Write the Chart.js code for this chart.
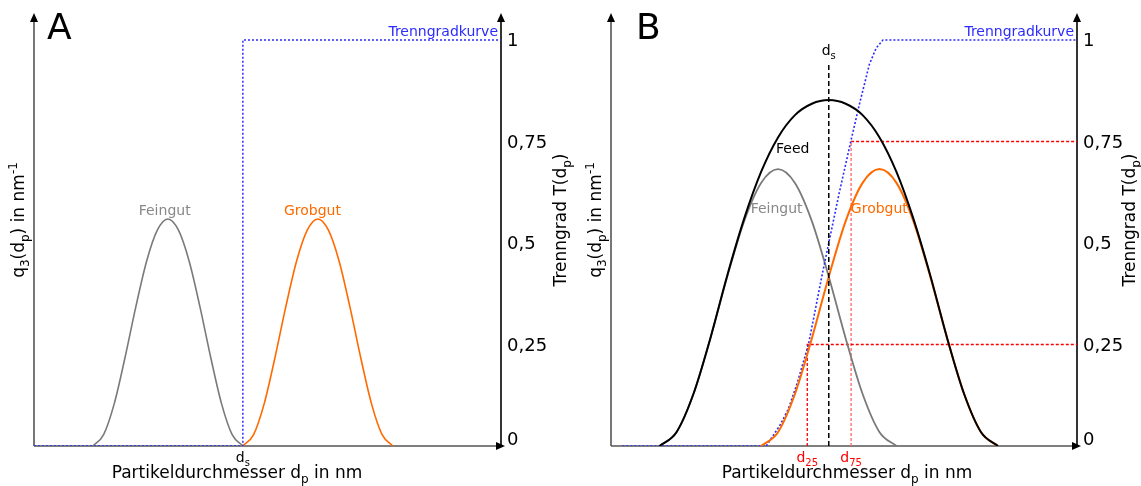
<!DOCTYPE html>
<html>
<head>
<meta charset="utf-8">
<script src="https://cdn.jsdelivr.net/npm/chart.js@4"></script>
<style>
  html, body { margin: 0; padding: 0; background: #fff; }
  #wrap { position: relative; width: 1141px; height: 486px; }
  .pane { position: absolute; top: 0; height: 486px; }
  #paneA { left: 0; width: 574px; }
  #paneB { left: 574px; width: 567px; }
</style>
</head>
<body>
<div id="wrap">
  <div class="pane" id="paneA"><canvas id="chartA" width="574" height="486"></canvas></div>
  <div class="pane" id="paneB"><canvas id="chartB" width="567" height="486"></canvas></div>
</div>
<script>
// right axis (Trenngrad)
const tickValues = [0, 0.25, 0.5, 0.75, 1];
const tickLabels = ['0', '0,25', '0,5', '0,75', '1'];

// --- A: ideale Trennung ---
const feinA_x = [30, 40, 50, 60, 70, 80, 90, 100, 110, 120, 130, 140, 150, 160, 170];
const feinA_q = [0, 0.028, 0.105, 0.218, 0.342, 0.454, 0.531, 0.559, 0.531, 0.454, 0.342, 0.218, 0.105, 0.028, 0];
const grobA_x = [170, 180, 190, 200, 210, 220, 230, 240, 250, 260, 270, 280, 290, 300, 310];
const grobA_q = [0, 0.028, 0.105, 0.218, 0.342, 0.454, 0.531, 0.559, 0.531, 0.454, 0.342, 0.218, 0.105, 0.028, 0];
const trennA_x = [-25, 170, 170, 411];
const trennA_T = [0, 0, 1, 1];
const dsA = 170;

// --- B: reale Trennung ---
const feinB_x = [30, 40, 50, 60, 70, 80, 90, 100, 110, 120, 130, 140, 150, 160, 170];
const feinB_q = [0, 0.034, 0.128, 0.265, 0.417, 0.554, 0.648, 0.682, 0.648, 0.554, 0.417, 0.265, 0.128, 0.034, 0];
const grobB_x = [90, 100, 110, 120, 130, 140, 150, 160, 170, 180, 190, 200, 210, 220, 230];
const grobB_q = [0, 0.034, 0.128, 0.265, 0.417, 0.554, 0.648, 0.682, 0.648, 0.554, 0.417, 0.265, 0.128, 0.034, 0];
const feedB_x = [30, 40, 50, 60, 70, 80, 90, 100, 110, 120, 130, 140, 150, 160, 170, 180, 190, 200, 210, 220, 230];
const feedB_q = [0, 0.034, 0.128, 0.265, 0.42, 0.56, 0.675, 0.76, 0.815, 0.843, 0.852, 0.843, 0.815, 0.76, 0.675, 0.56, 0.42, 0.265, 0.128, 0.034, 0];
const trennB_x = [8, 93, 101, 106, 111, 118, 126, 130, 136, 143, 148, 154, 158, 162, 276.7];
const trennB_T = [0, 0, 0.05, 0.09, 0.15, 0.25, 0.42, 0.5, 0.62, 0.75, 0.84, 0.94, 0.98, 1, 1];
const dsB = 130;
const d25B = 117.3;
const d75B = 143.2;
const dsTopT = 0.94;

const FONT = '"DejaVu Sans", Verdana, sans-serif';
const pts = (xs, ys) => xs.map((x, i) => ({ x: x, y: ys[i] }));

// text with sub/superscripts: parts = [[text, ''|'sub'|'sup'], ...]
function richText(ctx, parts, x, y, size, color, align, rotate) {
  const small = Math.round(size * 0.7);
  let w = 0;
  parts.forEach(([t, k]) => {
    ctx.font = (k ? small : size) + 'px ' + FONT;
    w += ctx.measureText(t).width;
  });
  ctx.save();
  ctx.translate(x, y);
  if (rotate) ctx.rotate(rotate);
  ctx.fillStyle = color;
  ctx.textBaseline = 'alphabetic';
  ctx.textAlign = 'left';
  let cx = align === 'center' ? -w / 2 : align === 'right' ? -w : 0;
  parts.forEach(([t, k]) => {
    ctx.font = (k ? small : size) + 'px ' + FONT;
    const dy = k === 'sub' ? size * 0.3 : k === 'sup' ? -size * 0.42 : 0;
    ctx.fillText(t, cx, dy);
    cx += ctx.measureText(t).width;
  });
  ctx.restore();
}

function arrowUp(ctx, x, tip) {
  ctx.beginPath();
  ctx.moveTo(x, tip);
  ctx.lineTo(x - 4, tip + 9);
  ctx.lineTo(x + 4, tip + 9);
  ctx.closePath();
  ctx.fill();
}
function arrowRight(ctx, tip, y) {
  ctx.beginPath();
  ctx.moveTo(tip, y);
  ctx.lineTo(tip - 9, y - 4);
  ctx.lineTo(tip - 9, y + 4);
  ctx.closePath();
  ctx.fill();
}

const frame = {
  id: 'frame',
  beforeDatasetsDraw(chart, args, o) {
    const ctx = chart.ctx, a = chart.chartArea;
    ctx.save();
    ctx.lineWidth = 1.6;
    ctx.strokeStyle = '#555';
    ctx.beginPath();
    ctx.moveTo(a.left, a.bottom);
    ctx.lineTo(a.left, a.top + 6);
    ctx.moveTo(a.left, a.bottom);
    ctx.lineTo(a.right - 2, a.bottom);
    ctx.stroke();
    ctx.strokeStyle = '#000';
    ctx.beginPath();
    ctx.moveTo(a.right, a.bottom);
    ctx.lineTo(a.right, a.top + 6);
    ctx.stroke();
    ctx.fillStyle = '#000';
    arrowUp(ctx, a.left, a.top);
    arrowUp(ctx, a.right, a.top);
    arrowRight(ctx, a.right + 4, a.bottom);
    ctx.restore();
  },
  afterDatasetsDraw(chart, args, o) {
    const ctx = chart.ctx, a = chart.chartArea;
    const sx = chart.scales.x, sq = chart.scales.yQ, sT = chart.scales.yT;
    // right ticks
    tickValues.forEach((v, i) => {
      const py = Math.min(sT.getPixelForValue(v), a.bottom - 8);
      richText(ctx, [[tickLabels[i], '']], a.right + 6, py + 6.5, 18, '#000', 'left');
    });
    // panel letter
    richText(ctx, [[o.letter, '']], o.letterX, 39, 36, '#000', 'left');
    // axis titles
    richText(ctx, [['q', ''], ['3', 'sub'], ['(d', ''], ['p', 'sub'], [') in nm', ''], ['-1', 'sup']],
      a.left - 10, o.titleY, 17, '#000', 'center', -Math.PI / 2);
    richText(ctx, [['Trenngrad T(d', ''], ['p', 'sub'], [')', '']],
      a.right + o.rightTitleDx, o.titleY, 17, '#000', 'center', -Math.PI / 2);
    richText(ctx, [['Partikeldurchmesser d', ''], ['p', 'sub'], [' in nm', '']],
      o.xTitleX, 478, 17, '#000', 'center');
    // Trenngradkurve
    richText(ctx, [['Trenngradkurve', '']], a.right - 3, 36, 14, '#2b2bff', 'right');
    // curve labels (data coordinates)
    o.labels.forEach(l => {
      richText(ctx, l.parts, sx.getPixelForValue(l.x), sq.getPixelForValue(l.y) + 5, 14, l.color, 'center');
    });
    // labels under the x axis
    o.under.forEach(l => {
      richText(ctx, l.parts, sx.getPixelForValue(l.x), a.bottom + 16, 14, l.color, 'center');
    });
  }
};

function lineSet(label, data, color, width, extra) {
  return Object.assign({
    label: label,
    data: data,
    borderColor: color,
    borderWidth: width,
    pointRadius: 0,
    fill: false,
    cubicInterpolationMode: 'monotone',
    yAxisID: 'yQ'
  }, extra || {});
}

function makeChart(id, xMin, xMax, padLeft, padRight, datasets, frameOpts) {
  return new Chart(document.getElementById(id), {
    type: 'line',
    data: { datasets: datasets },
    options: {
      responsive: false,
      animation: false,
      devicePixelRatio: 1,
      layout: { padding: { left: padLeft, right: padRight, top: 13, bottom: 40 } },
      plugins: { legend: { display: false }, tooltip: { enabled: false }, frame: frameOpts },
      scales: {
        x: { type: 'linear', min: xMin, max: xMax, display: false },
        yQ: { type: 'linear', min: 0, max: 1.0665, display: false },
        yT: { type: 'linear', min: 0, max: 1.0665, display: false, position: 'right' }
      }
    },
    plugins: [frame]
  });
}

const dotted = { borderDash: [2, 2], yAxisID: 'yT', tension: 0, cubicInterpolationMode: 'default' };
const red = { borderDash: [3, 2], yAxisID: 'yT', tension: 0, cubicInterpolationMode: 'default' };

makeChart('chartA', -25, 411, 34, 73, [
  lineSet('Trenngradkurve', pts(trennA_x, trennA_T), '#2b2bff', 1.5, Object.assign({ order: 0 }, dotted)),
  lineSet('Feingut', pts(feinA_x, feinA_q), '#7a7a7a', 1.6, { order: 2 }),
  lineSet('Grobgut', pts(grobA_x, grobA_q), '#ff6a00', 1.6, { order: 1 })
], {
  letter: 'A', letterX: 47, titleY: 220, xTitleX: 237, rightTitleDx: 65,
  labels: [
    { parts: [['Feingut', '']], x: 97, y: 0.581, color: '#888' },
    { parts: [['Grobgut', '']], x: 235, y: 0.581, color: '#ff6a00' }
  ],
  under: [
    { parts: [['d', ''], ['s', 'sub']], x: dsA, color: '#000' }
  ]
});

makeChart('chartB', 1.3, 276.7, 37, 64, [
  lineSet('ds', pts([dsB, dsB], [0, dsTopT]), '#000', 1.5, { order: 0, borderDash: [5, 3], yAxisID: 'yT', tension: 0, cubicInterpolationMode: 'default' }),
  lineSet('Feed', pts(feedB_x, feedB_q), '#000', 2, { order: 1 }),
  lineSet('Grobgut', pts(grobB_x, grobB_q), '#ff6a00', 2, { order: 2 }),
  lineSet('Trenngradkurve', pts(trennB_x, trennB_T), '#2b2bff', 1.6, Object.assign({ order: 3 }, dotted)),
  lineSet('Feingut', pts(feinB_x, feinB_q), '#7a7a7a', 1.8, { order: 4 }),
  lineSet('d25', pts([d25B, d25B, 276.7], [0, 0.25, 0.25]), '#ff0000', 1.3, Object.assign({ order: 5 }, red)),
  lineSet('d75 h', pts([d75B, 276.7], [0.75, 0.75]), '#ff0000', 1.3, Object.assign({ order: 5 }, red)),
  lineSet('d75 v', pts([d75B, d75B], [0, 0.75]), '#ff7070', 1.4, Object.assign({ order: 6 }, red))
], {
  letter: 'B', letterX: 62, titleY: 220, xTitleX: 273, rightTitleDx: 58,
  labels: [
    { parts: [['Feed', '']], x: 108.7, y: 0.734, color: '#000' },
    { parts: [['Feingut', '']], x: 99.2, y: 0.586, color: '#888' },
    { parts: [['Grobgut', '']], x: 159.9, y: 0.586, color: '#ff6a00' },
    { parts: [['d', ''], ['s', 'sub']], x: dsB, y: 0.975, color: '#000' }
  ],
  under: [
    { parts: [['d', ''], ['25', 'sub']], x: d25B, color: '#ff0000' },
    { parts: [['d', ''], ['75', 'sub']], x: d75B, color: '#ff0000' }
  ]
});
</script>
</body>
</html>
